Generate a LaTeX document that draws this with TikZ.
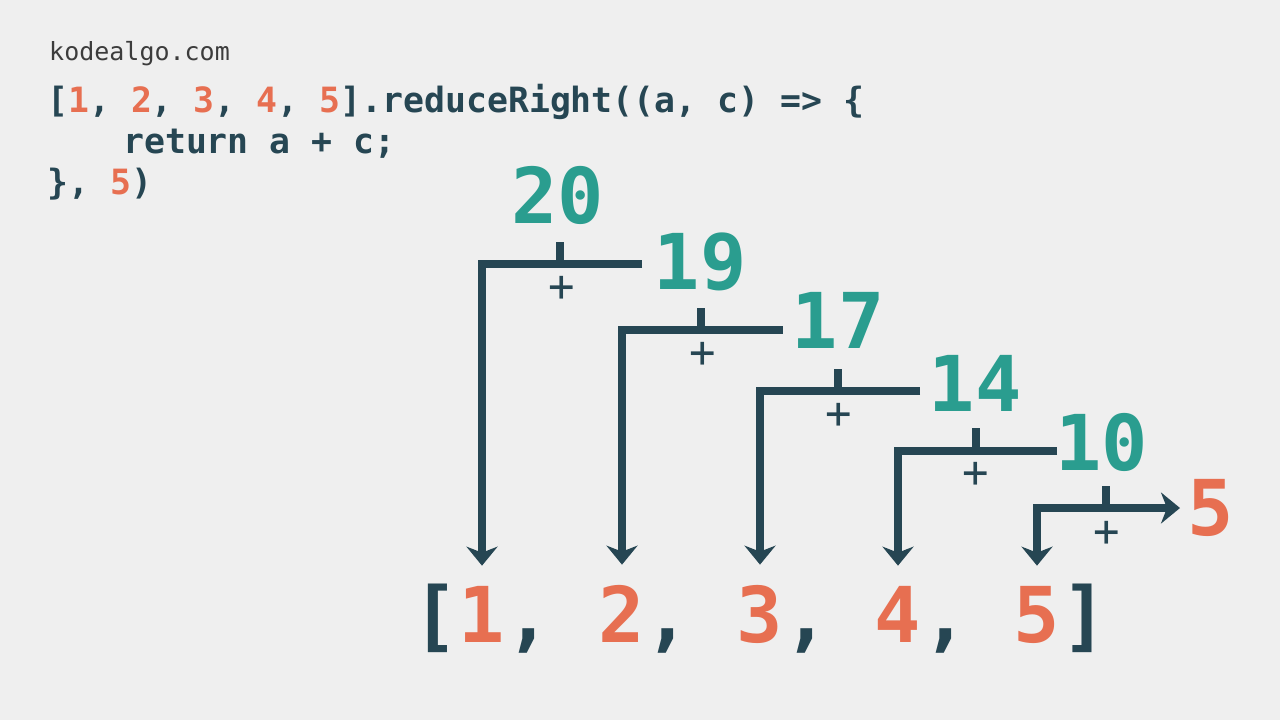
\documentclass[tikz,border=0pt]{standalone}
\usepackage{fontspec}
\setmonofont{DejaVu Sans Mono}
\usetikzlibrary{arrows.meta}
\definecolor{bgc}{HTML}{EFEFEF}
\definecolor{slate}{HTML}{264653}
\definecolor{accteal}{HTML}{2A9D8F}
\definecolor{orng}{HTML}{E76F51}
\definecolor{site}{HTML}{3C3C3C}
\newcommand{\on}[1]{\textcolor{orng}{#1}}
\begin{document}
\begin{tikzpicture}[x=1pt,y=-1pt,
  big/.style={font=\ttfamily\bfseries\fontsize{77}{77}\selectfont, inner sep=0pt, anchor=base},
  res/.style={big, text=accteal},
  num/.style={big, text=orng},
  punct/.style={big, text=slate},
  code/.style={font=\ttfamily\bfseries\fontsize{34.8}{41}\selectfont, text=slate, inner sep=0pt, anchor=base west},
  site/.style={font=\ttfamily\fontsize{25}{25}\selectfont, text=site, inner sep=0pt, anchor=base west},
  plus/.style={font=\ttfamily\fontsize{44}{44}\selectfont, text=slate, inner sep=0pt},
  conn/.style={draw=slate, line width=7.5pt, line join=miter},
  arr/.style={conn, -{Stealth[length=19pt,width=31pt,inset=6pt]}},
  arrboth/.style={conn, {Stealth[length=19pt,width=31pt,inset=6pt]}-{Stealth[length=19pt,width=31pt,inset=6pt]}},
]
\fill[bgc] (0,0) rectangle (1280,720);
\useasboundingbox (0,0) rectangle (1280,720);

% header and code
\node[site] (url) at (49,60) {kodealgo.com};
\node[code] (line1) at (47,112) {[\on{1}, \on{2}, \on{3}, \on{4}, \on{5}].reduceRight((a, c) => \{};
\node[code] (line2) at (123,153) {return a + c;};
\node[code] (line3) at (47,194) {\}, \on{5})};

% array
\node[punct] (lb) at (435.7,642) {[};
\node[num] (d1) at (482,642) {1};
\node[punct] (k1) at (528.4,642) {,};
\node[num] (d2) at (622,642) {2};
\node[punct] (k2) at (667.4,642) {,};
\node[num] (d3) at (760,642) {3};
\node[punct] (k3) at (806.5,642) {,};
\node[num] (d4) at (898,642) {4};
\node[punct] (k4) at (945.5,642) {,};
\node[num] (d5) at (1037,642) {5};
\node[punct] (rb) at (1084.4,642) {]};

% results
\node[res] (r20) at (557.5,223) {20};
\node[res] (r19) at (700,289) {19};
\node[res] (r17) at (838,348) {17};
\node[res] (r14) at (975,411) {14};
\node[res] (r10) at (1101.5,470) {10};
\node[num] (i5) at (1211,535.7) {5};

% plus signs
\node[plus] (p1) at (562,289) {+};
\node[plus] (p2) at (703,355) {+};
\node[plus] (p3) at (839,416) {+};
\node[plus] (p4) at (976,475) {+};
\node[plus] (p5) at (1107,534) {+};

% coordinates
\coordinate (c1l) at (482,264);  \coordinate (c1r) at (642,264);
\coordinate (j1) at (560,264);   \coordinate (t1) at (560,242);
\coordinate (c2l) at (622,330);  \coordinate (c2r) at (782.7,330);
\coordinate (j2) at (701,330);   \coordinate (t2) at (701,308);
\coordinate (c3l) at (760,391);  \coordinate (c3r) at (920,391);
\coordinate (j3) at (838,391);   \coordinate (t3) at (838,369);
\coordinate (c4l) at (898,451);  \coordinate (c4r) at (1057,451);
\coordinate (j4) at (976,451);   \coordinate (t4) at (976,428);
\coordinate (c5l) at (1037,508); \coordinate (c5r) at (1180,508);
\coordinate (j5) at (1106,508);  \coordinate (t5) at (1106,486);

% connectors
\draw[arr, shorten >=20pt] (c1r) -- (c1l) -- (d1.north);
\draw[arr, shorten >=20pt] (c2r) -- (c2l) -- (d2.north);
\draw[arr, shorten >=20pt] (c3r) -- (c3l) -- (d3.north);
\draw[arr, shorten >=20pt] (c4r) -- (c4l) -- (d4.north);
\draw[arrboth, shorten >=20pt] (c5r) -- (c5l) -- (d5.north);
\draw[conn] (j1) -- (t1);
\draw[conn] (j2) -- (t2);
\draw[conn] (j3) -- (t3);
\draw[conn] (j4) -- (t4);
\draw[conn] (j5) -- (t5);
\end{tikzpicture}
\end{document}
